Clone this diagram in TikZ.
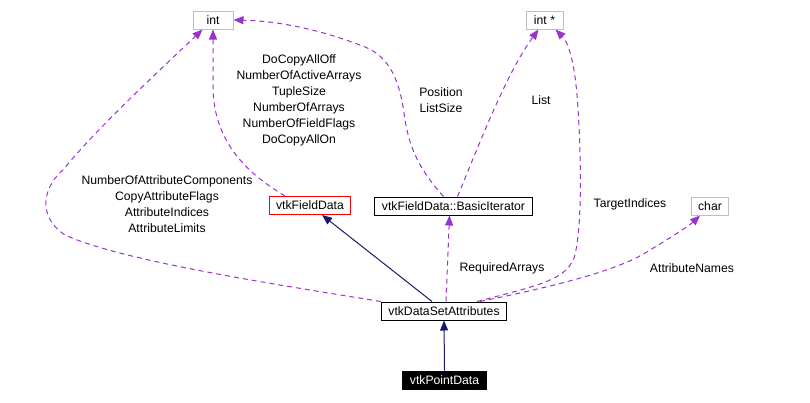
\documentclass[tikz,border=0pt]{standalone}
\usepackage{fontspec}
\setmainfont{Liberation Sans}
\usetikzlibrary{arrows.meta, positioning}

\definecolor{usecolor}{HTML}{9A32CD}
\definecolor{basecolor}{HTML}{191970}
\definecolor{extcolor}{HTML}{BFBFBF}

\begin{document}
\begin{tikzpicture}[
        x = 1pt, y = -1pt,
        font = \fontsize{12.2}{16}\selectfont,
        >= {Triangle[length = 10pt, width = 8pt]},
        class/.style = {draw = black, line width = 1pt, inner xsep = 7pt, inner ysep = 0pt,
            minimum height = 18pt, minimum width = 36pt},
        external/.style = {class, draw = extcolor},
        uses/.style = {->, draw = usecolor, line width = 1pt, dash pattern = on 5pt off 4pt},
        inherits/.style = {->, draw = basecolor, line width = 1pt},
        member/.style = {align = center, inner sep = 0pt}
    ]

        \useasboundingbox (0,0) rectangle (810,402);

        \node[external, minimum width = 40pt] (int) at (213,20) {int};
        \node[external, minimum width = 37pt] (intptr) at (544.5,20) {int *};
        \node[class, draw = red] (fielddata) at (310,205.5) {vtkFieldData};
        \node[class] (iterator) at (453.5,206) {vtkFieldData::BasicIterator};
        \node[external] (chartype) at (710,206) {char};
        \node[class] (dsa) at (444,311) {vtkDataSetAttributes};
        \node[class, fill = black, text = white] (pointdata) at (444.5,380) {vtkPointData};

        \node[member] (flagnames) at (299,100) {DoCopyAllOff\\NumberOfActiveArrays\\TupleSize\\NumberOfArrays\\NumberOfFieldFlags\\DoCopyAllOn};
        \node[member] (attrnames) at (167,204) {NumberOfAttributeComponents\\CopyAttributeFlags\\AttributeIndices\\AttributeLimits};
        \node[member] (posnames) at (441,100) {Position\\ListSize};
        \node[member] (listname) at (541,100) {List};
        \node[member] (targetname) at (630,204) {TargetIndices};
        \node[member] (reqname) at (502,268) {RequiredArrays};
        \node[member] (charname) at (692,268) {AttributeNames};

        \draw[inherits] (pointdata.north) -- (dsa.south);
        \draw[inherits] ([xshift = -12pt]dsa.north) -- (fielddata);

        \draw[uses] ([xshift = 2pt]dsa.north) -- ([xshift = -4pt]iterator.south);
        \draw[uses] ([xshift = 33pt]dsa.north)
            .. controls (540,285) and (565,280) .. (574,258)
            .. controls (584,225) and (580,130) .. (577,95)
            .. controls (574,60) and (568,42) .. ([xshift = 11pt]intptr.south);
        \draw[uses] ([xshift = 36pt]dsa.north)
            .. controls (560,285) and (620,270) .. (650,250)
            .. controls (675,235) and (690,225) .. ([xshift = -10pt]chartype.south);
        \draw[uses] ([xshift = 4pt]iterator.north)
            .. controls (475,155) and (505,75) .. ([xshift = -6pt]intptr.south);
        \draw[uses] ([xshift = -10pt]iterator.north)
            .. controls (420,170) and (410,150) .. (405,120)
            .. controls (400,80) and (390,55) .. (360,45)
            .. controls (320,30) and (280,21) .. (int.east);
        \draw[uses] ([xshift = -25pt]fielddata.north)
            .. controls (250,175) and (215,145) .. (213,90) -- (int.south);
        \draw[uses] (dsa.north west)
            .. controls (260,282) and (120,260) .. (65,235)
            .. controls (35,215) and (45,185) .. (63,170)
            .. controls (95,130) and (160,70) .. ([xshift = 10pt]int.south west);

\end{tikzpicture}
\end{document}
